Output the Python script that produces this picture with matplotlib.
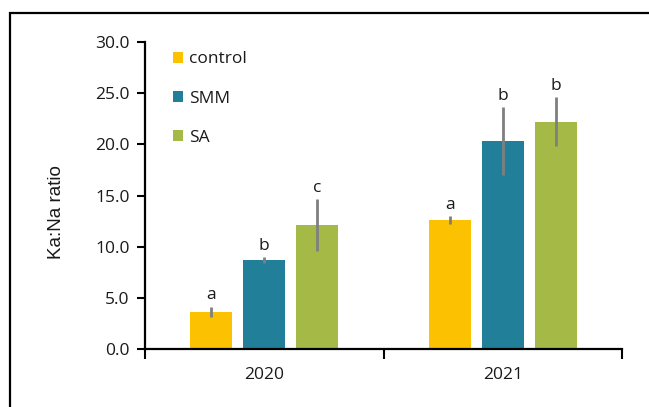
import matplotlib
matplotlib.use("Agg")
import matplotlib.pyplot as plt
from matplotlib.patches import Rectangle, Patch
import numpy as np

years = ["2020", "2021"]
treatments = ["control", "SMM", "SA"]
means = {
    "control": [3.6, 12.6],
    "SMM": [8.7, 20.3],
    "SA": [12.1, 22.2],
}
errors = {
    "control": [0.5, 0.35],
    "SMM": [0.25, 3.3],
    "SA": [2.55, 2.4],
}
letters = {
    "control": ["a", "a"],
    "SMM": ["b", "b"],
    "SA": ["c", "b"],
}
colors = {"control": "#FCC100", "SMM": "#217F99", "SA": "#A5B946"}
yticks = [0.0, 5.0, 10.0, 15.0, 20.0, 25.0, 30.0]

plt.rcParams["font.family"] = ["Open Sans", "DejaVu Sans"]
txt = "#1A1A1A"
fs = 12.5

W, H = 649, 407
fig = plt.figure(figsize=(W / 100, H / 100), dpi=100)

# outer frame around the chart area
fig.patches.append(Rectangle((10 / W, -0.1), 1.2, (H - 13) / H + 0.1,
                             transform=fig.transFigure, fill=False,
                             edgecolor="black", linewidth=1.6))

ax = fig.add_axes([145 / W, (H - 349) / H, (622 - 145) / W, (349 - 42) / H])

x = np.arange(len(years))
width = 0.176
step = 0.222
for i, t in enumerate(treatments):
    xs = x + (i - 1) * step
    ax.bar(xs, means[t], width=width, color=colors[t], label=t, zorder=2)
    ax.errorbar(xs, means[t], yerr=errors[t], fmt="none", ecolor="#7F7F7F",
                elinewidth=2, capsize=0, zorder=3)
    for xi, m, e, lt in zip(xs, means[t], errors[t], letters[t]):
        ax.text(xi, m + e + 0.35, lt, ha="center", va="bottom", fontsize=fs,
                color=txt)

ax.set_xlim(-0.5, 1.5)
ax.set_ylim(0, 30)
ax.set_yticks(yticks)
ax.set_yticklabels([f"{v:.1f}" for v in yticks])
ax.set_xticks(x)
ax.set_xticklabels(years)
ax.set_xticks([-0.5, 0.5, 1.5], minor=True)
ax.tick_params(axis="x", which="major", length=0, pad=13, labelsize=fs,
               colors=txt)
ax.tick_params(axis="x", which="minor", length=7, width=1.5, direction="out")
ax.tick_params(axis="y", length=6, width=1.5, direction="out", pad=5,
               labelsize=fs, colors=txt)
ax.tick_params(axis="both", which="both", color="black")
for s in ["top", "right"]:
    ax.spines[s].set_visible(False)
for s in ["left", "bottom"]:
    ax.spines[s].set_linewidth(1.6)
    ax.spines[s].set_color("black")

ax.set_ylabel("Ka:Na ratio", fontsize=13.5, color=txt,
              family=["Liberation Sans", "DejaVu Sans"])
ax.yaxis.set_label_coords(-0.168, 0.446)

handles = [Patch(facecolor=colors[t], label=t) for t in treatments]
ax.legend(handles=handles, loc="upper left", bbox_to_anchor=(0.025, 1.02),
          frameon=False, fontsize=fs, handlelength=0.6, handleheight=0.6,
          handletextpad=0.35, labelspacing=1.33, labelcolor=txt)

fig.savefig("out.png", dpi=100)
